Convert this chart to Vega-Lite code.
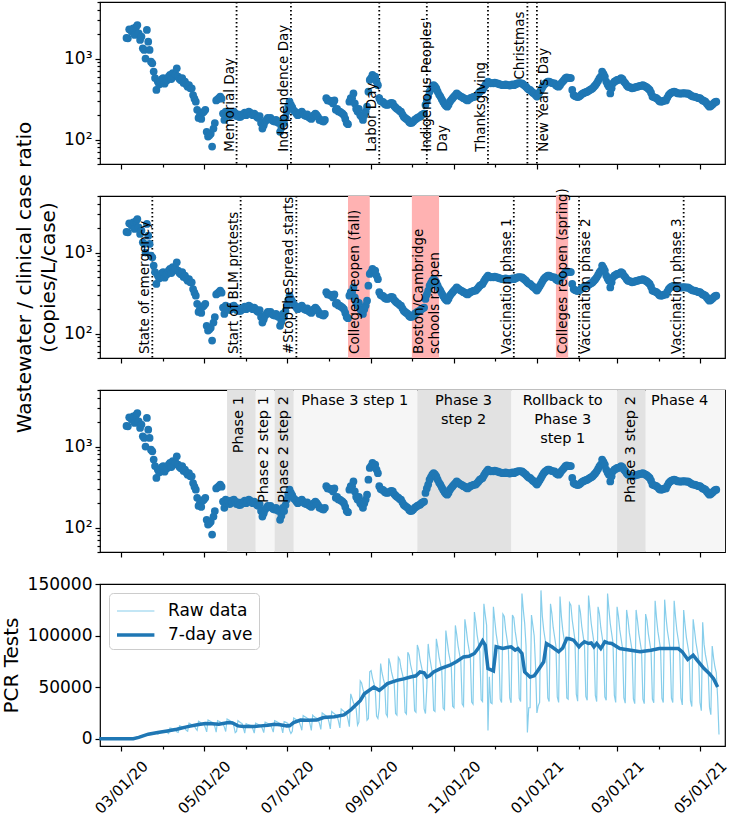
{
"$schema":"https://vega.github.io/schema/vega-lite/v6.json",
"background":"white",
"padding":{"left":0,"top":0,"right":5,"bottom":0},
"spacing":32,
"bounds":"flush",
"resolve":{"scale":{"color":"independent","strokeWidth":"independent"},"legend":{"color":"independent","strokeWidth":"independent"}},
"config":{"font":"DejaVu Sans","view":{"stroke":"black","strokeWidth":1.2},
"axis":{"grid":false,"domain":false,"tickColor":"black","tickWidth":1.2,"labelColor":"black","labelFont":"DejaVu Sans","labelFontSize":17,"titleFont":"DejaVu Sans","titleFontSize":20,"titleFontWeight":"normal","titleColor":"black","labelOverlap":false},
"text":{"font":"DejaVu Sans","color":"black"}},
"datasets":{
"hol":[{"d":"2020-05-25","label":"Memorial Day","y":71},{"d":"2020-07-04","label":"Independence Day","y":71},{"d":"2020-09-07","label":"Labor Day","y":71},{"d":"2020-10-12","label":"Indigenous Peoples'\nDay","y":71},{"d":"2020-11-26","label":"Thanksgiving","y":71},{"d":"2020-12-25","label":"Christmas","y":551},{"d":"2021-01-01","label":"New Year's Day","y":71}],
"evt":[{"d":"2020-03-24","label":"State of emergency","y":56},{"d":"2020-05-28","label":"Start of BLM protests","y":56},{"d":"2020-07-08","label":"#StopTheSpread starts","y":56},{"d":"2020-12-15","label":"Vaccination phase 1","y":56},{"d":"2021-02-01","label":"Vaccination phase 2","y":56},{"d":"2021-04-19","label":"Vaccination phase 3","y":56}],
"reopen":[{"d":"2020-08-15","d2":"2020-08-31","label":"Colleges reopen (fall)","y":56},{"d":"2020-10-01","d2":"2020-10-21","label":"Boston/Cambridge\nschools reopen","y":56},{"d":"2021-01-15","d2":"2021-01-24","label":"Colleges reopen (spring)","y":56}],
"phdark":[{"d":"2020-05-18","d2":"2020-06-08","label":"Phase 1"},{"d":"2020-06-22","d2":"2020-07-06","label":"Phase 2 step 2"},{"d":"2020-10-05","d2":"2020-12-13","label":"Phase 3 step 2"},{"d":"2021-03-01","d2":"2021-03-22","label":"Phase 3 step 2"}],
"phlight":[{"d":"2020-06-08","d2":"2020-06-22","label":"Phase 2 step 1"},{"d":"2020-07-06","d2":"2020-10-05","label":"Phase 3 step 1"},{"d":"2020-12-13","d2":"2021-03-01","label":"Rollback to Phase 3 step 1"},{"d":"2021-03-22","d2":"2021-05-20","label":"Phase 4"}],
"phv":[{"d":"2020-05-27","label":"Phase 1","y":4200},{"d":"2020-06-14","label":"Phase 2 step 1","y":4200},{"d":"2020-06-29","label":"Phase 2 step 2","y":4200},{"d":"2021-03-11","label":"Phase 3 step 2","y":4200}],
"phh":[{"d":"2020-08-20","label":"Phase 3 step 1","y":4500},{"d":"2020-11-08","label":"Phase 3\nstep 2","y":4500},{"d":"2021-01-20","label":"Rollback to\nPhase 3\nstep 1","y":4500},{"d":"2021-04-16","label":"Phase 4","y":4500}],
"ww":[{"d":"2020-03-05","r":1800},{"d":"2020-03-06","r":1780},{"d":"2020-03-07","r":2300},{"d":"2020-03-08","r":2260},{"d":"2020-03-09","r":2150},{"d":"2020-03-10","r":2370},{"d":"2020-03-11","r":1960},{"d":"2020-03-12","r":2450},{"d":"2020-03-13","r":2600},{"d":"2020-03-14","r":2050},{"d":"2020-03-15","r":1700},{"d":"2020-03-16","r":1870},{"d":"2020-03-17","r":1340},{"d":"2020-03-18","r":1280},{"d":"2020-03-19","r":1000},{"d":"2020-03-20","r":2260},{"d":"2020-03-21","r":1620},{"d":"2020-03-22","r":1280},{"d":"2020-03-23","r":918},{"d":"2020-03-24","r":875},{"d":"2020-03-25","r":691},{"d":"2020-03-26","r":575},{"d":"2020-03-27","r":410},{"d":"2020-03-28","r":520},{"d":"2020-03-29","r":480},{"d":"2020-03-30","r":520},{"d":"2020-03-31","r":560},{"d":"2020-04-01","r":575},{"d":"2020-04-02","r":490},{"d":"2020-04-03","r":530},{"d":"2020-04-04","r":545},{"d":"2020-04-05","r":600},{"d":"2020-04-06","r":630},{"d":"2020-04-07","r":560},{"d":"2020-04-08","r":660},{"d":"2020-04-09","r":600},{"d":"2020-04-10","r":640},{"d":"2020-04-11","r":760},{"d":"2020-04-12","r":600},{"d":"2020-04-13","r":560},{"d":"2020-04-14","r":540},{"d":"2020-04-15","r":575},{"d":"2020-04-16","r":500},{"d":"2020-04-17","r":520},{"d":"2020-04-18","r":480},{"d":"2020-04-19","r":450},{"d":"2020-04-20","r":470},{"d":"2020-04-21","r":430},{"d":"2020-04-22","r":430},{"d":"2020-04-23","r":355},{"d":"2020-04-24","r":320},{"d":"2020-04-25","r":294},{"d":"2020-04-26","r":233},{"d":"2020-04-27","r":185},{"d":"2020-04-28","r":200},{"d":"2020-04-29","r":180},{"d":"2020-04-30","r":215},{"d":"2020-05-01","r":222},{"d":"2020-05-02","r":233},{"d":"2020-05-03","r":125},{"d":"2020-05-04","r":109},{"d":"2020-05-05","r":113},{"d":"2020-05-06","r":118},{"d":"2020-05-07","r":82},{"d":"2020-05-08","r":137},{"d":"2020-05-09","r":160},{"d":"2020-05-10","r":305},{"d":"2020-05-11","r":315},{"d":"2020-05-12","r":325},{"d":"2020-05-13","r":340},{"d":"2020-05-14","r":320},{"d":"2020-05-15","r":210},{"d":"2020-05-16","r":175},{"d":"2020-05-17","r":221},{"d":"2020-05-18","r":200},{"d":"2020-05-19","r":210},{"d":"2020-05-20","r":195},{"d":"2020-05-21","r":215},{"d":"2020-05-22","r":205},{"d":"2020-05-23","r":222},{"d":"2020-05-24","r":210},{"d":"2020-05-25","r":195},{"d":"2020-05-26","r":205},{"d":"2020-05-27","r":190},{"d":"2020-05-28","r":192},{"d":"2020-05-29","r":205},{"d":"2020-05-30","r":200},{"d":"2020-05-31","r":215},{"d":"2020-06-01","r":200},{"d":"2020-06-02","r":210},{"d":"2020-06-03","r":222},{"d":"2020-06-04","r":215},{"d":"2020-06-05","r":205},{"d":"2020-06-06","r":200},{"d":"2020-06-07","r":210},{"d":"2020-06-08","r":200},{"d":"2020-06-09","r":190},{"d":"2020-06-10","r":185},{"d":"2020-06-11","r":195},{"d":"2020-06-12","r":160},{"d":"2020-06-13","r":137},{"d":"2020-06-14","r":150},{"d":"2020-06-15","r":167},{"d":"2020-06-16","r":175},{"d":"2020-06-17","r":185},{"d":"2020-06-18","r":180},{"d":"2020-06-19","r":185},{"d":"2020-06-20","r":175},{"d":"2020-06-21","r":170},{"d":"2020-06-22","r":167},{"d":"2020-06-23","r":175},{"d":"2020-06-24","r":165},{"d":"2020-06-25","r":160},{"d":"2020-06-26","r":125},{"d":"2020-06-27","r":140},{"d":"2020-06-28","r":175},{"d":"2020-06-29","r":160},{"d":"2020-06-30","r":190},{"d":"2020-07-01","r":222},{"d":"2020-07-02","r":260},{"d":"2020-07-03","r":294},{"d":"2020-07-04","r":268},{"d":"2020-07-05","r":250},{"d":"2020-07-06","r":230},{"d":"2020-07-07","r":222},{"d":"2020-07-08","r":210},{"d":"2020-07-09","r":200},{"d":"2020-07-10","r":205},{"d":"2020-07-11","r":215},{"d":"2020-07-12","r":222},{"d":"2020-07-13","r":210},{"d":"2020-07-14","r":200},{"d":"2020-07-15","r":195},{"d":"2020-07-16","r":205},{"d":"2020-07-17","r":190},{"d":"2020-07-18","r":185},{"d":"2020-07-19","r":180},{"d":"2020-07-20","r":195},{"d":"2020-07-21","r":200},{"d":"2020-07-22","r":210},{"d":"2020-07-23","r":200},{"d":"2020-07-24","r":190},{"d":"2020-07-25","r":175},{"d":"2020-07-26","r":175},{"d":"2020-07-27","r":170},{"d":"2020-07-28","r":167},{"d":"2020-07-29","r":175},{"d":"2020-07-30","r":325},{"d":"2020-07-31","r":305},{"d":"2020-08-01","r":305},{"d":"2020-08-02","r":300},{"d":"2020-08-03","r":294},{"d":"2020-08-04","r":280},{"d":"2020-08-05","r":305},{"d":"2020-08-06","r":233},{"d":"2020-08-07","r":240},{"d":"2020-08-08","r":222},{"d":"2020-08-09","r":222},{"d":"2020-08-10","r":215},{"d":"2020-08-11","r":210},{"d":"2020-08-12","r":200},{"d":"2020-08-13","r":180},{"d":"2020-08-14","r":160},{"d":"2020-08-15","r":155},{"d":"2020-08-16","r":294},{"d":"2020-08-17","r":325},{"d":"2020-08-18","r":325},{"d":"2020-08-19","r":372},{"d":"2020-08-20","r":280},{"d":"2020-08-21","r":240},{"d":"2020-08-22","r":222},{"d":"2020-08-23","r":240},{"d":"2020-08-24","r":200},{"d":"2020-08-25","r":192},{"d":"2020-08-26","r":175},{"d":"2020-08-27","r":200},{"d":"2020-08-28","r":222},{"d":"2020-08-29","r":255},{"d":"2020-08-30","r":390},{"d":"2020-08-31","r":545},{"d":"2020-09-01","r":575},{"d":"2020-09-02","r":630},{"d":"2020-09-03","r":600},{"d":"2020-09-04","r":600},{"d":"2020-09-05","r":520},{"d":"2020-09-06","r":470},{"d":"2020-09-07","r":325},{"d":"2020-09-08","r":300},{"d":"2020-09-09","r":294},{"d":"2020-09-10","r":290},{"d":"2020-09-11","r":275},{"d":"2020-09-12","r":270},{"d":"2020-09-13","r":268},{"d":"2020-09-14","r":275},{"d":"2020-09-15","r":280},{"d":"2020-09-16","r":285},{"d":"2020-09-17","r":280},{"d":"2020-09-18","r":260},{"d":"2020-09-19","r":250},{"d":"2020-09-20","r":240},{"d":"2020-09-21","r":235},{"d":"2020-09-22","r":225},{"d":"2020-09-23","r":222},{"d":"2020-09-24","r":205},{"d":"2020-09-25","r":192},{"d":"2020-09-26","r":185},{"d":"2020-09-27","r":180},{"d":"2020-09-28","r":175},{"d":"2020-09-29","r":165},{"d":"2020-09-30","r":160},{"d":"2020-10-01","r":162},{"d":"2020-10-02","r":167},{"d":"2020-10-03","r":175},{"d":"2020-10-04","r":180},{"d":"2020-10-05","r":185},{"d":"2020-10-06","r":190},{"d":"2020-10-07","r":192},{"d":"2020-10-08","r":200},{"d":"2020-10-09","r":205},{"d":"2020-10-10","r":210},{"d":"2020-10-11","r":268},{"d":"2020-10-12","r":305},{"d":"2020-10-13","r":340},{"d":"2020-10-14","r":391},{"d":"2020-10-15","r":420},{"d":"2020-10-16","r":450},{"d":"2020-10-17","r":470},{"d":"2020-10-18","r":455},{"d":"2020-10-19","r":430},{"d":"2020-10-20","r":390},{"d":"2020-10-21","r":360},{"d":"2020-10-22","r":340},{"d":"2020-10-23","r":315},{"d":"2020-10-24","r":294},{"d":"2020-10-25","r":275},{"d":"2020-10-26","r":262},{"d":"2020-10-27","r":255},{"d":"2020-10-28","r":270},{"d":"2020-10-29","r":294},{"d":"2020-10-30","r":310},{"d":"2020-10-31","r":325},{"d":"2020-11-01","r":340},{"d":"2020-11-02","r":355},{"d":"2020-11-03","r":372},{"d":"2020-11-04","r":360},{"d":"2020-11-05","r":350},{"d":"2020-11-06","r":340},{"d":"2020-11-07","r":335},{"d":"2020-11-08","r":325},{"d":"2020-11-09","r":320},{"d":"2020-11-10","r":310},{"d":"2020-11-11","r":305},{"d":"2020-11-12","r":315},{"d":"2020-11-13","r":325},{"d":"2020-11-14","r":330},{"d":"2020-11-15","r":335},{"d":"2020-11-16","r":340},{"d":"2020-11-17","r":340},{"d":"2020-11-18","r":355},{"d":"2020-11-19","r":372},{"d":"2020-11-20","r":390},{"d":"2020-11-21","r":400},{"d":"2020-11-22","r":410},{"d":"2020-11-23","r":440},{"d":"2020-11-24","r":470},{"d":"2020-11-25","r":495},{"d":"2020-11-26","r":520},{"d":"2020-11-27","r":505},{"d":"2020-11-28","r":495},{"d":"2020-11-29","r":500},{"d":"2020-11-30","r":495},{"d":"2020-12-01","r":505},{"d":"2020-12-02","r":495},{"d":"2020-12-03","r":495},{"d":"2020-12-04","r":485},{"d":"2020-12-05","r":480},{"d":"2020-12-06","r":475},{"d":"2020-12-07","r":470},{"d":"2020-12-08","r":470},{"d":"2020-12-09","r":480},{"d":"2020-12-10","r":470},{"d":"2020-12-11","r":470},{"d":"2020-12-12","r":465},{"d":"2020-12-13","r":470},{"d":"2020-12-14","r":480},{"d":"2020-12-15","r":470},{"d":"2020-12-16","r":480},{"d":"2020-12-17","r":490},{"d":"2020-12-18","r":495},{"d":"2020-12-19","r":500},{"d":"2020-12-20","r":495},{"d":"2020-12-21","r":495},{"d":"2020-12-22","r":480},{"d":"2020-12-23","r":465},{"d":"2020-12-24","r":450},{"d":"2020-12-25","r":430},{"d":"2020-12-26","r":415},{"d":"2020-12-27","r":410},{"d":"2020-12-28","r":395},{"d":"2020-12-29","r":380},{"d":"2020-12-30","r":372},{"d":"2020-12-31","r":355},{"d":"2021-01-01","r":340},{"d":"2021-01-02","r":360},{"d":"2021-01-03","r":385},{"d":"2021-01-04","r":410},{"d":"2021-01-05","r":440},{"d":"2021-01-06","r":470},{"d":"2021-01-07","r":490},{"d":"2021-01-08","r":505},{"d":"2021-01-09","r":520},{"d":"2021-01-10","r":520},{"d":"2021-01-11","r":510},{"d":"2021-01-12","r":500},{"d":"2021-01-13","r":495},{"d":"2021-01-14","r":495},{"d":"2021-01-15","r":470},{"d":"2021-01-16","r":455},{"d":"2021-01-17","r":450},{"d":"2021-01-18","r":470},{"d":"2021-01-19","r":500},{"d":"2021-01-20","r":520},{"d":"2021-01-21","r":545},{"d":"2021-01-22","r":575},{"d":"2021-01-23","r":585},{"d":"2021-01-24","r":575},{"d":"2021-01-25","r":580},{"d":"2021-01-26","r":575},{"d":"2021-01-27","r":410},{"d":"2021-01-28","r":355},{"d":"2021-01-29","r":345},{"d":"2021-01-30","r":340},{"d":"2021-01-31","r":335},{"d":"2021-02-01","r":340},{"d":"2021-02-02","r":350},{"d":"2021-02-03","r":365},{"d":"2021-02-04","r":372},{"d":"2021-02-05","r":380},{"d":"2021-02-06","r":385},{"d":"2021-02-07","r":391},{"d":"2021-02-08","r":400},{"d":"2021-02-09","r":410},{"d":"2021-02-10","r":420},{"d":"2021-02-11","r":430},{"d":"2021-02-12","r":450},{"d":"2021-02-13","r":470},{"d":"2021-02-14","r":495},{"d":"2021-02-15","r":530},{"d":"2021-02-16","r":570},{"d":"2021-02-17","r":600},{"d":"2021-02-18","r":691},{"d":"2021-02-19","r":650},{"d":"2021-02-20","r":600},{"d":"2021-02-21","r":520},{"d":"2021-02-22","r":480},{"d":"2021-02-23","r":450},{"d":"2021-02-24","r":372},{"d":"2021-02-25","r":430},{"d":"2021-02-26","r":495},{"d":"2021-02-27","r":520},{"d":"2021-02-28","r":530},{"d":"2021-03-01","r":545},{"d":"2021-03-02","r":545},{"d":"2021-03-03","r":560},{"d":"2021-03-04","r":575},{"d":"2021-03-05","r":560},{"d":"2021-03-06","r":520},{"d":"2021-03-07","r":500},{"d":"2021-03-08","r":470},{"d":"2021-03-09","r":450},{"d":"2021-03-10","r":445},{"d":"2021-03-11","r":440},{"d":"2021-03-12","r":430},{"d":"2021-03-13","r":435},{"d":"2021-03-14","r":440},{"d":"2021-03-15","r":445},{"d":"2021-03-16","r":450},{"d":"2021-03-17","r":455},{"d":"2021-03-18","r":460},{"d":"2021-03-19","r":465},{"d":"2021-03-20","r":470},{"d":"2021-03-21","r":460},{"d":"2021-03-22","r":450},{"d":"2021-03-23","r":440},{"d":"2021-03-24","r":425},{"d":"2021-03-25","r":410},{"d":"2021-03-26","r":380},{"d":"2021-03-27","r":340},{"d":"2021-03-28","r":335},{"d":"2021-03-29","r":330},{"d":"2021-03-30","r":325},{"d":"2021-03-31","r":315},{"d":"2021-04-01","r":300},{"d":"2021-04-02","r":294},{"d":"2021-04-03","r":295},{"d":"2021-04-04","r":300},{"d":"2021-04-05","r":305},{"d":"2021-04-06","r":305},{"d":"2021-04-07","r":330},{"d":"2021-04-08","r":355},{"d":"2021-04-09","r":370},{"d":"2021-04-10","r":380},{"d":"2021-04-11","r":385},{"d":"2021-04-12","r":391},{"d":"2021-04-13","r":385},{"d":"2021-04-14","r":375},{"d":"2021-04-15","r":372},{"d":"2021-04-16","r":372},{"d":"2021-04-17","r":370},{"d":"2021-04-18","r":372},{"d":"2021-04-19","r":375},{"d":"2021-04-20","r":372},{"d":"2021-04-21","r":370},{"d":"2021-04-22","r":372},{"d":"2021-04-23","r":365},{"d":"2021-04-24","r":355},{"d":"2021-04-25","r":345},{"d":"2021-04-26","r":340},{"d":"2021-04-27","r":340},{"d":"2021-04-28","r":335},{"d":"2021-04-29","r":330},{"d":"2021-04-30","r":325},{"d":"2021-05-01","r":325},{"d":"2021-05-02","r":315},{"d":"2021-05-03","r":305},{"d":"2021-05-04","r":300},{"d":"2021-05-05","r":294},{"d":"2021-05-06","r":280},{"d":"2021-05-07","r":265},{"d":"2021-05-08","r":255},{"d":"2021-05-09","r":260},{"d":"2021-05-10","r":270},{"d":"2021-05-11","r":280},{"d":"2021-05-12","r":290},{"d":"2021-05-13","r":294}],
"avg":[{"d":"2020-02-14","a":0},{"d":"2020-03-10","a":0},{"d":"2020-03-14","a":1200},{"d":"2020-03-21","a":4300},{"d":"2020-03-28","a":6000},{"d":"2020-04-04","a":7500},{"d":"2020-04-11","a":9200},{"d":"2020-04-19","a":11700},{"d":"2020-04-26","a":13500},{"d":"2020-05-02","a":14600},{"d":"2020-05-07","a":14500},{"d":"2020-05-12","a":14000},{"d":"2020-05-19","a":15600},{"d":"2020-05-22","a":15200},{"d":"2020-05-26","a":12400},{"d":"2020-05-30","a":11900},{"d":"2020-06-02","a":11700},{"d":"2020-06-07","a":11800},{"d":"2020-06-12","a":12400},{"d":"2020-06-17","a":13000},{"d":"2020-06-22","a":14000},{"d":"2020-06-26","a":13500},{"d":"2020-07-01","a":12400},{"d":"2020-07-03","a":12500},{"d":"2020-07-06","a":15600},{"d":"2020-07-11","a":18000},{"d":"2020-07-16","a":17800},{"d":"2020-07-23","a":18000},{"d":"2020-07-28","a":20500},{"d":"2020-08-05","a":21200},{"d":"2020-08-12","a":23100},{"d":"2020-08-17","a":28000},{"d":"2020-08-24","a":36800},{"d":"2020-08-27","a":43600},{"d":"2020-09-03","a":50100},{"d":"2020-09-07","a":46900},{"d":"2020-09-10","a":50000},{"d":"2020-09-13","a":53400},{"d":"2020-09-20","a":56600},{"d":"2020-09-25","a":58000},{"d":"2020-09-30","a":59900},{"d":"2020-10-04","a":61000},{"d":"2020-10-07","a":64800},{"d":"2020-10-10","a":64000},{"d":"2020-10-12","a":59900},{"d":"2020-10-14","a":61000},{"d":"2020-10-17","a":64800},{"d":"2020-10-22","a":68000},{"d":"2020-10-29","a":71300},{"d":"2020-11-03","a":75000},{"d":"2020-11-08","a":79400},{"d":"2020-11-12","a":80000},{"d":"2020-11-16","a":82700},{"d":"2020-11-19","a":88000},{"d":"2020-11-22","a":95000},{"d":"2020-11-24","a":90800},{"d":"2020-11-26","a":68000},{"d":"2020-11-30","a":65800},{"d":"2020-12-02","a":89200},{"d":"2020-12-07","a":87500},{"d":"2020-12-10","a":88500},{"d":"2020-12-13","a":89200},{"d":"2020-12-16","a":85900},{"d":"2020-12-18","a":87500},{"d":"2020-12-21","a":82700},{"d":"2020-12-23","a":64800},{"d":"2020-12-27","a":59900},{"d":"2020-12-30","a":61000},{"d":"2021-01-01","a":64800},{"d":"2021-01-06","a":74600},{"d":"2021-01-08","a":92400},{"d":"2021-01-12","a":89200},{"d":"2021-01-17","a":84300},{"d":"2021-01-20","a":88000},{"d":"2021-01-23","a":97300},{"d":"2021-01-25","a":97000},{"d":"2021-01-28","a":95600},{"d":"2021-02-01","a":89200},{"d":"2021-02-03","a":92000},{"d":"2021-02-05","a":94100},{"d":"2021-02-08","a":92400},{"d":"2021-02-10","a":93000},{"d":"2021-02-12","a":89200},{"d":"2021-02-14","a":92400},{"d":"2021-02-17","a":87500},{"d":"2021-02-20","a":94100},{"d":"2021-02-22","a":93000},{"d":"2021-02-25","a":92400},{"d":"2021-03-03","a":87500},{"d":"2021-03-11","a":85900},{"d":"2021-03-18","a":84300},{"d":"2021-03-26","a":85900},{"d":"2021-04-01","a":87500},{"d":"2021-04-07","a":87500},{"d":"2021-04-15","a":87500},{"d":"2021-04-18","a":84300},{"d":"2021-04-22","a":76800},{"d":"2021-04-26","a":81000},{"d":"2021-04-29","a":76100},{"d":"2021-05-04","a":68000},{"d":"2021-05-08","a":63000},{"d":"2021-05-11","a":58300},{"d":"2021-05-14","a":50100}],
"pcr":[{"d":"2020-02-14","t":0},{"d":"2020-02-21","t":0},{"d":"2020-02-28","t":0},{"d":"2020-03-01","t":0},{"d":"2020-03-07","t":0},{"d":"2020-03-08","t":0},{"d":"2020-03-09","t":0},{"d":"2020-03-10","t":200},{"d":"2020-03-11","t":600},{"d":"2020-03-12","t":1200},{"d":"2020-03-13","t":1800},{"d":"2020-03-14","t":1800},{"d":"2020-03-15","t":2200},{"d":"2020-03-16","t":2800},{"d":"2020-03-17","t":3200},{"d":"2020-03-18","t":3500},{"d":"2020-03-19","t":3800},{"d":"2020-03-20","t":4000},{"d":"2020-03-21","t":3600},{"d":"2020-03-22","t":3800},{"d":"2020-03-23","t":4800},{"d":"2020-03-24","t":5200},{"d":"2020-03-25","t":5400},{"d":"2020-03-26","t":5500},{"d":"2020-03-27","t":5200},{"d":"2020-03-28","t":4400},{"d":"2020-03-29","t":5000},{"d":"2020-03-30","t":6800},{"d":"2020-03-31","t":7200},{"d":"2020-04-01","t":7400},{"d":"2020-04-02","t":7200},{"d":"2020-04-03","t":7000},{"d":"2020-04-04","t":6000},{"d":"2020-04-05","t":5000},{"d":"2020-04-06","t":10400},{"d":"2020-04-07","t":10000},{"d":"2020-04-08","t":9100},{"d":"2020-04-09","t":8700},{"d":"2020-04-10","t":8300},{"d":"2020-04-11","t":6600},{"d":"2020-04-12","t":6000},{"d":"2020-04-13","t":12500},{"d":"2020-04-14","t":12000},{"d":"2020-04-15","t":11000},{"d":"2020-04-16","t":10500},{"d":"2020-04-17","t":10000},{"d":"2020-04-18","t":8000},{"d":"2020-04-19","t":7200},{"d":"2020-04-20","t":15000},{"d":"2020-04-21","t":14400},{"d":"2020-04-22","t":13200},{"d":"2020-04-23","t":12600},{"d":"2020-04-24","t":12000},{"d":"2020-04-25","t":9600},{"d":"2020-04-26","t":8100},{"d":"2020-04-27","t":16900},{"d":"2020-04-28","t":16200},{"d":"2020-04-29","t":14900},{"d":"2020-04-30","t":14200},{"d":"2020-05-01","t":13500},{"d":"2020-05-02","t":10800},{"d":"2020-05-03","t":6500},{"d":"2020-05-04","t":18100},{"d":"2020-05-05","t":17400},{"d":"2020-05-06","t":16700},{"d":"2020-05-07","t":16000},{"d":"2020-05-08","t":15200},{"d":"2020-05-09","t":11600},{"d":"2020-05-10","t":6300},{"d":"2020-05-11","t":17500},{"d":"2020-05-12","t":16800},{"d":"2020-05-13","t":16100},{"d":"2020-05-14","t":15400},{"d":"2020-05-15","t":14700},{"d":"2020-05-16","t":11200},{"d":"2020-05-17","t":6900},{"d":"2020-05-18","t":19100},{"d":"2020-05-19","t":18400},{"d":"2020-05-20","t":17600},{"d":"2020-05-21","t":16800},{"d":"2020-05-22","t":16100},{"d":"2020-05-23","t":12200},{"d":"2020-05-24","t":5900},{"d":"2020-05-25","t":7000},{"d":"2020-05-26","t":17500},{"d":"2020-05-27","t":16500},{"d":"2020-05-28","t":15500},{"d":"2020-05-29","t":14700},{"d":"2020-05-30","t":10400},{"d":"2020-05-31","t":5300},{"d":"2020-06-01","t":14600},{"d":"2020-06-02","t":14000},{"d":"2020-06-03","t":13500},{"d":"2020-06-04","t":12900},{"d":"2020-06-05","t":12300},{"d":"2020-06-06","t":9400},{"d":"2020-06-07","t":5400},{"d":"2020-06-08","t":15000},{"d":"2020-06-09","t":14400},{"d":"2020-06-10","t":13800},{"d":"2020-06-11","t":13200},{"d":"2020-06-12","t":12600},{"d":"2020-06-13","t":9600},{"d":"2020-06-14","t":5800},{"d":"2020-06-15","t":16000},{"d":"2020-06-16","t":15400},{"d":"2020-06-17","t":14700},{"d":"2020-06-18","t":14100},{"d":"2020-06-19","t":13400},{"d":"2020-06-20","t":10200},{"d":"2020-06-21","t":6300},{"d":"2020-06-22","t":17500},{"d":"2020-06-23","t":16800},{"d":"2020-06-24","t":16100},{"d":"2020-06-25","t":15400},{"d":"2020-06-26","t":14700},{"d":"2020-06-27","t":11200},{"d":"2020-06-28","t":5600},{"d":"2020-06-29","t":16500},{"d":"2020-06-30","t":16000},{"d":"2020-07-01","t":15300},{"d":"2020-07-02","t":14500},{"d":"2020-07-03","t":8000},{"d":"2020-07-04","t":5000},{"d":"2020-07-05","t":7200},{"d":"2020-07-06","t":20000},{"d":"2020-07-07","t":19200},{"d":"2020-07-08","t":18400},{"d":"2020-07-09","t":17600},{"d":"2020-07-10","t":16800},{"d":"2020-07-11","t":12800},{"d":"2020-07-12","t":8100},{"d":"2020-07-13","t":22500},{"d":"2020-07-14","t":21600},{"d":"2020-07-15","t":20700},{"d":"2020-07-16","t":19800},{"d":"2020-07-17","t":18900},{"d":"2020-07-18","t":14400},{"d":"2020-07-19","t":8000},{"d":"2020-07-20","t":22800},{"d":"2020-07-21","t":21400},{"d":"2020-07-22","t":20500},{"d":"2020-07-23","t":19900},{"d":"2020-07-24","t":18700},{"d":"2020-07-25","t":14600},{"d":"2020-07-26","t":9000},{"d":"2020-07-27","t":25000},{"d":"2020-07-28","t":24000},{"d":"2020-07-29","t":23000},{"d":"2020-07-30","t":22000},{"d":"2020-07-31","t":21000},{"d":"2020-08-01","t":16000},{"d":"2020-08-02","t":9500},{"d":"2020-08-03","t":26300},{"d":"2020-08-04","t":25200},{"d":"2020-08-05","t":24200},{"d":"2020-08-06","t":23100},{"d":"2020-08-07","t":22100},{"d":"2020-08-08","t":16800},{"d":"2020-08-09","t":10400},{"d":"2020-08-10","t":28800},{"d":"2020-08-11","t":27600},{"d":"2020-08-12","t":26500},{"d":"2020-08-13","t":25300},{"d":"2020-08-14","t":24200},{"d":"2020-08-15","t":18400},{"d":"2020-08-16","t":11600},{"d":"2020-08-17","t":43500},{"d":"2020-08-18","t":39200},{"d":"2020-08-19","t":34800},{"d":"2020-08-20","t":31900},{"d":"2020-08-21","t":29000},{"d":"2020-08-22","t":13100},{"d":"2020-08-23","t":16000},{"d":"2020-08-24","t":56000},{"d":"2020-08-25","t":54000},{"d":"2020-08-26","t":48000},{"d":"2020-08-27","t":44000},{"d":"2020-08-28","t":40000},{"d":"2020-08-29","t":18000},{"d":"2020-08-30","t":19600},{"d":"2020-08-31","t":65000},{"d":"2020-09-01","t":66000},{"d":"2020-09-02","t":58800},{"d":"2020-09-03","t":53900},{"d":"2020-09-04","t":49000},{"d":"2020-09-05","t":22000},{"d":"2020-09-06","t":19600},{"d":"2020-09-07","t":30000},{"d":"2020-09-08","t":73000},{"d":"2020-09-09","t":64000},{"d":"2020-09-10","t":58000},{"d":"2020-09-11","t":53000},{"d":"2020-09-12","t":24000},{"d":"2020-09-13","t":21600},{"d":"2020-09-14","t":78000},{"d":"2020-09-15","t":72900},{"d":"2020-09-16","t":64800},{"d":"2020-09-17","t":59400},{"d":"2020-09-18","t":54000},{"d":"2020-09-19","t":24300},{"d":"2020-09-20","t":22800},{"d":"2020-09-21","t":79000},{"d":"2020-09-22","t":77000},{"d":"2020-09-23","t":68400},{"d":"2020-09-24","t":62700},{"d":"2020-09-25","t":57000},{"d":"2020-09-26","t":25700},{"d":"2020-09-27","t":24000},{"d":"2020-09-28","t":84000},{"d":"2020-09-29","t":81000},{"d":"2020-09-30","t":72000},{"d":"2020-10-01","t":66000},{"d":"2020-10-02","t":60000},{"d":"2020-10-03","t":27000},{"d":"2020-10-04","t":25600},{"d":"2020-10-05","t":91000},{"d":"2020-10-06","t":86400},{"d":"2020-10-07","t":76800},{"d":"2020-10-08","t":70400},{"d":"2020-10-09","t":64000},{"d":"2020-10-10","t":28800},{"d":"2020-10-11","t":24400},{"d":"2020-10-12","t":50000},{"d":"2020-10-13","t":92000},{"d":"2020-10-14","t":80000},{"d":"2020-10-15","t":72000},{"d":"2020-10-16","t":64000},{"d":"2020-10-17","t":27500},{"d":"2020-10-18","t":26400},{"d":"2020-10-19","t":97000},{"d":"2020-10-20","t":89100},{"d":"2020-10-21","t":79200},{"d":"2020-10-22","t":72600},{"d":"2020-10-23","t":66000},{"d":"2020-10-24","t":29700},{"d":"2020-10-25","t":28000},{"d":"2020-10-26","t":105000},{"d":"2020-10-27","t":94500},{"d":"2020-10-28","t":84000},{"d":"2020-10-29","t":77000},{"d":"2020-10-30","t":70000},{"d":"2020-10-31","t":31500},{"d":"2020-11-01","t":30000},{"d":"2020-11-02","t":110000},{"d":"2020-11-03","t":101000},{"d":"2020-11-04","t":90000},{"d":"2020-11-05","t":82500},{"d":"2020-11-06","t":75000},{"d":"2020-11-07","t":33800},{"d":"2020-11-08","t":31600},{"d":"2020-11-09","t":116000},{"d":"2020-11-10","t":106600},{"d":"2020-11-11","t":94800},{"d":"2020-11-12","t":86900},{"d":"2020-11-13","t":79000},{"d":"2020-11-14","t":35600},{"d":"2020-11-15","t":33600},{"d":"2020-11-16","t":123000},{"d":"2020-11-17","t":113400},{"d":"2020-11-18","t":100800},{"d":"2020-11-19","t":92400},{"d":"2020-11-20","t":84000},{"d":"2020-11-21","t":37800},{"d":"2020-11-22","t":36000},{"d":"2020-11-23","t":131000},{"d":"2020-11-24","t":120000},{"d":"2020-11-25","t":110000},{"d":"2020-11-26","t":8000},{"d":"2020-11-27","t":60000},{"d":"2020-11-28","t":35000},{"d":"2020-11-29","t":34000},{"d":"2020-11-30","t":128000},{"d":"2020-12-01","t":114700},{"d":"2020-12-02","t":102000},{"d":"2020-12-03","t":93500},{"d":"2020-12-04","t":85000},{"d":"2020-12-05","t":38300},{"d":"2020-12-06","t":35200},{"d":"2020-12-07","t":121000},{"d":"2020-12-08","t":118800},{"d":"2020-12-09","t":105600},{"d":"2020-12-10","t":96800},{"d":"2020-12-11","t":88000},{"d":"2020-12-12","t":39600},{"d":"2020-12-13","t":34800},{"d":"2020-12-14","t":120000},{"d":"2020-12-15","t":117400},{"d":"2020-12-16","t":104400},{"d":"2020-12-17","t":95700},{"d":"2020-12-18","t":87000},{"d":"2020-12-19","t":39200},{"d":"2020-12-20","t":36000},{"d":"2020-12-21","t":141000},{"d":"2020-12-22","t":125000},{"d":"2020-12-23","t":112000},{"d":"2020-12-24","t":90000},{"d":"2020-12-25","t":6000},{"d":"2020-12-26","t":30000},{"d":"2020-12-27","t":30000},{"d":"2020-12-28","t":120000},{"d":"2020-12-29","t":110000},{"d":"2020-12-30","t":100000},{"d":"2020-12-31","t":70000},{"d":"2021-01-01","t":25000},{"d":"2021-01-02","t":32000},{"d":"2021-01-03","t":35200},{"d":"2021-01-04","t":144000},{"d":"2021-01-05","t":118800},{"d":"2021-01-06","t":105600},{"d":"2021-01-07","t":96800},{"d":"2021-01-08","t":88000},{"d":"2021-01-09","t":39600},{"d":"2021-01-10","t":36000},{"d":"2021-01-11","t":131000},{"d":"2021-01-12","t":121500},{"d":"2021-01-13","t":108000},{"d":"2021-01-14","t":99000},{"d":"2021-01-15","t":90000},{"d":"2021-01-16","t":40500},{"d":"2021-01-17","t":35200},{"d":"2021-01-18","t":138000},{"d":"2021-01-19","t":118800},{"d":"2021-01-20","t":105600},{"d":"2021-01-21","t":96800},{"d":"2021-01-22","t":88000},{"d":"2021-01-23","t":39600},{"d":"2021-01-24","t":38400},{"d":"2021-01-25","t":132000},{"d":"2021-01-26","t":129600},{"d":"2021-01-27","t":115200},{"d":"2021-01-28","t":105600},{"d":"2021-01-29","t":96000},{"d":"2021-01-30","t":43200},{"d":"2021-01-31","t":36400},{"d":"2021-02-01","t":130000},{"d":"2021-02-02","t":122900},{"d":"2021-02-03","t":109200},{"d":"2021-02-04","t":100100},{"d":"2021-02-05","t":91000},{"d":"2021-02-06","t":41000},{"d":"2021-02-07","t":37200},{"d":"2021-02-08","t":139000},{"d":"2021-02-09","t":125600},{"d":"2021-02-10","t":111600},{"d":"2021-02-11","t":102300},{"d":"2021-02-12","t":93000},{"d":"2021-02-13","t":41900},{"d":"2021-02-14","t":36000},{"d":"2021-02-15","t":128000},{"d":"2021-02-16","t":121500},{"d":"2021-02-17","t":108000},{"d":"2021-02-18","t":99000},{"d":"2021-02-19","t":90000},{"d":"2021-02-20","t":40500},{"d":"2021-02-21","t":37200},{"d":"2021-02-22","t":141000},{"d":"2021-02-23","t":125600},{"d":"2021-02-24","t":111600},{"d":"2021-02-25","t":102300},{"d":"2021-02-26","t":93000},{"d":"2021-02-27","t":41900},{"d":"2021-02-28","t":35200},{"d":"2021-03-01","t":128000},{"d":"2021-03-02","t":118800},{"d":"2021-03-03","t":105600},{"d":"2021-03-04","t":96800},{"d":"2021-03-05","t":88000},{"d":"2021-03-06","t":39600},{"d":"2021-03-07","t":34400},{"d":"2021-03-08","t":125000},{"d":"2021-03-09","t":116100},{"d":"2021-03-10","t":103200},{"d":"2021-03-11","t":94600},{"d":"2021-03-12","t":86000},{"d":"2021-03-13","t":38700},{"d":"2021-03-14","t":34000},{"d":"2021-03-15","t":125000},{"d":"2021-03-16","t":114800},{"d":"2021-03-17","t":102000},{"d":"2021-03-18","t":93500},{"d":"2021-03-19","t":85000},{"d":"2021-03-20","t":38300},{"d":"2021-03-21","t":34000},{"d":"2021-03-22","t":121000},{"d":"2021-03-23","t":114800},{"d":"2021-03-24","t":102000},{"d":"2021-03-25","t":93500},{"d":"2021-03-26","t":85000},{"d":"2021-03-27","t":38300},{"d":"2021-03-28","t":34800},{"d":"2021-03-29","t":134000},{"d":"2021-03-30","t":117500},{"d":"2021-03-31","t":104400},{"d":"2021-04-01","t":95700},{"d":"2021-04-02","t":87000},{"d":"2021-04-03","t":39200},{"d":"2021-04-04","t":35000},{"d":"2021-04-05","t":135000},{"d":"2021-04-06","t":118100},{"d":"2021-04-07","t":105000},{"d":"2021-04-08","t":96300},{"d":"2021-04-09","t":87500},{"d":"2021-04-10","t":39400},{"d":"2021-04-11","t":35000},{"d":"2021-04-12","t":134000},{"d":"2021-04-13","t":118100},{"d":"2021-04-14","t":105000},{"d":"2021-04-15","t":96300},{"d":"2021-04-16","t":87500},{"d":"2021-04-17","t":39400},{"d":"2021-04-18","t":32800},{"d":"2021-04-19","t":125000},{"d":"2021-04-20","t":110700},{"d":"2021-04-21","t":98400},{"d":"2021-04-22","t":90200},{"d":"2021-04-23","t":82000},{"d":"2021-04-24","t":36900},{"d":"2021-04-25","t":31200},{"d":"2021-04-26","t":116000},{"d":"2021-04-27","t":105300},{"d":"2021-04-28","t":93600},{"d":"2021-04-29","t":85800},{"d":"2021-04-30","t":78000},{"d":"2021-05-01","t":35100},{"d":"2021-05-02","t":27200},{"d":"2021-05-03","t":113000},{"d":"2021-05-04","t":91800},{"d":"2021-05-05","t":81600},{"d":"2021-05-06","t":74800},{"d":"2021-05-07","t":68000},{"d":"2021-05-08","t":30600},{"d":"2021-05-09","t":23200},{"d":"2021-05-10","t":90000},{"d":"2021-05-11","t":78300},{"d":"2021-05-12","t":69600},{"d":"2021-05-13","t":63800},{"d":"2021-05-14","t":40000},{"d":"2021-05-15","t":4000}]
},
"vconcat":[
{"width":625,"height":162,
"encoding":{"x":{"field":"d","type":"temporal","scale":{"type":"utc","domain":[{"year":2020,"month":2,"date":14,"hours":12,"utc":true},{"year":2021,"month":5,"date":19,"hours":10,"utc":true}]},"axis":{"title":null,"labels":false,"values":[{"year":2020,"month":3,"date":1,"utc":true},{"year":2020,"month":4,"date":1,"utc":true},{"year":2020,"month":5,"date":1,"utc":true},{"year":2020,"month":6,"date":1,"utc":true},{"year":2020,"month":7,"date":1,"utc":true},{"year":2020,"month":8,"date":1,"utc":true},{"year":2020,"month":9,"date":1,"utc":true},{"year":2020,"month":10,"date":1,"utc":true},{"year":2020,"month":11,"date":1,"utc":true},{"year":2020,"month":12,"date":1,"utc":true},{"year":2021,"month":1,"date":1,"utc":true},{"year":2021,"month":2,"date":1,"utc":true},{"year":2021,"month":3,"date":1,"utc":true},{"year":2021,"month":4,"date":1,"utc":true},{"year":2021,"month":5,"date":1,"utc":true}],"tickSize":{"condition":{"test":"utcmonth(datum.value) % 2 == 0","value":5},"value":3}}}},
"layer":[
{"data":{"name":"hol"},"mark":{"type":"rule","color":"black","strokeWidth":1.8,"strokeDash":[1.5,2.5]},"encoding":{}},
{"data":{"name":"ww"},"mark":{"type":"circle","size":60,"color":"#1f77b4","opacity":1},"encoding":{"y":{"field":"r","type":"quantitative","scale":{"type":"log","domain":[50,5000],"nice":false},"axis":{"title":null,"values":[50,60,70,80,90,100,200,300,400,500,600,700,800,900,1000,2000,3000,4000,5000],"labelExpr":"datum.value == 100 ? '10²' : datum.value == 1000 ? '10³' : ''","labelFontSize":{"condition":{"test":"datum.value == 100 || datum.value == 1000","value":17},"value":0},"labelPadding":3,"tickSize":{"condition":{"test":"datum.value == 100 || datum.value == 1000","value":5},"value":3}}}}},
{"data":{"name":"hol"},"transform":[{"filter":{"not":{"field":"label","oneOf":["New Year's Day","Indigenous Peoples'\nDay"]}}}],"mark":{"type":"text","angle":270,"align":"left","baseline":"bottom","fontSize":13.5},"encoding":{"y":{"field":"y","type":"quantitative","scale":{"type":"log","domain":[50,5000],"nice":false},"axis":{"title":null,"values":[50,60,70,80,90,100,200,300,400,500,600,700,800,900,1000,2000,3000,4000,5000],"labelExpr":"datum.value == 100 ? '10²' : datum.value == 1000 ? '10³' : ''","labelFontSize":{"condition":{"test":"datum.value == 100 || datum.value == 1000","value":17},"value":0},"labelPadding":3,"tickSize":{"condition":{"test":"datum.value == 100 || datum.value == 1000","value":5},"value":3}}},"text":{"field":"label"}}},
{"data":{"name":"hol"},"transform":[{"filter":{"field":"label","equal":"New Year's Day"}}],"mark":{"type":"text","angle":270,"align":"left","baseline":"top","fontSize":13.5},"encoding":{"y":{"field":"y","type":"quantitative","scale":{"type":"log","domain":[50,5000],"nice":false},"axis":{"title":null,"values":[50,60,70,80,90,100,200,300,400,500,600,700,800,900,1000,2000,3000,4000,5000],"labelExpr":"datum.value == 100 ? '10²' : datum.value == 1000 ? '10³' : ''","labelFontSize":{"condition":{"test":"datum.value == 100 || datum.value == 1000","value":17},"value":0},"labelPadding":3,"tickSize":{"condition":{"test":"datum.value == 100 || datum.value == 1000","value":5},"value":3}}},"text":{"field":"label"}}},
{"data":{"name":"hol"},"transform":[{"filter":{"field":"label","equal":"Indigenous Peoples'\nDay"}}],"mark":{"type":"text","angle":270,"align":"left","baseline":"middle","lineBreak":"\n","lineHeight":16,"fontSize":13.5},"encoding":{"y":{"field":"y","type":"quantitative","scale":{"type":"log","domain":[50,5000],"nice":false},"axis":{"title":null,"values":[50,60,70,80,90,100,200,300,400,500,600,700,800,900,1000,2000,3000,4000,5000],"labelExpr":"datum.value == 100 ? '10²' : datum.value == 1000 ? '10³' : ''","labelFontSize":{"condition":{"test":"datum.value == 100 || datum.value == 1000","value":17},"value":0},"labelPadding":3,"tickSize":{"condition":{"test":"datum.value == 100 || datum.value == 1000","value":5},"value":3}}},"text":{"field":"label"}}}
]},
{"width":625,"height":162,
"encoding":{"x":{"field":"d","type":"temporal","scale":{"type":"utc","domain":[{"year":2020,"month":2,"date":14,"hours":12,"utc":true},{"year":2021,"month":5,"date":19,"hours":10,"utc":true}]},"axis":{"title":null,"labels":false,"values":[{"year":2020,"month":3,"date":1,"utc":true},{"year":2020,"month":4,"date":1,"utc":true},{"year":2020,"month":5,"date":1,"utc":true},{"year":2020,"month":6,"date":1,"utc":true},{"year":2020,"month":7,"date":1,"utc":true},{"year":2020,"month":8,"date":1,"utc":true},{"year":2020,"month":9,"date":1,"utc":true},{"year":2020,"month":10,"date":1,"utc":true},{"year":2020,"month":11,"date":1,"utc":true},{"year":2020,"month":12,"date":1,"utc":true},{"year":2021,"month":1,"date":1,"utc":true},{"year":2021,"month":2,"date":1,"utc":true},{"year":2021,"month":3,"date":1,"utc":true},{"year":2021,"month":4,"date":1,"utc":true},{"year":2021,"month":5,"date":1,"utc":true}],"tickSize":{"condition":{"test":"utcmonth(datum.value) % 2 == 0","value":5},"value":3}}}},
"layer":[
{"data":{"name":"reopen"},"mark":{"type":"rect","color":"#ffb2b2"},"encoding":{"x2":{"field":"d2"}}},
{"data":{"name":"evt"},"mark":{"type":"rule","color":"black","strokeWidth":1.8,"strokeDash":[1.5,2.5]},"encoding":{}},
{"data":{"name":"ww"},"mark":{"type":"circle","size":60,"color":"#1f77b4","opacity":1},"encoding":{"y":{"field":"r","type":"quantitative","scale":{"type":"log","domain":[50,5000],"nice":false},"axis":{"title":["Wastewater / clinical case ratio","(copies/L/case)"],"titleX":-66,"titleLineHeight":24,"values":[50,60,70,80,90,100,200,300,400,500,600,700,800,900,1000,2000,3000,4000,5000],"labelExpr":"datum.value == 100 ? '10²' : datum.value == 1000 ? '10³' : ''","labelFontSize":{"condition":{"test":"datum.value == 100 || datum.value == 1000","value":17},"value":0},"labelPadding":3,"tickSize":{"condition":{"test":"datum.value == 100 || datum.value == 1000","value":5},"value":3}}}}},
{"data":{"name":"evt"},"transform":[{"filter":{"not":{"field":"label","equal":"Vaccination phase 2"}}}],"mark":{"type":"text","angle":270,"align":"left","baseline":"bottom","fontSize":13.5},"encoding":{"y":{"field":"y","type":"quantitative","scale":{"type":"log","domain":[50,5000],"nice":false},"axis":{"title":["Wastewater / clinical case ratio","(copies/L/case)"],"titleX":-66,"titleLineHeight":24,"values":[50,60,70,80,90,100,200,300,400,500,600,700,800,900,1000,2000,3000,4000,5000],"labelExpr":"datum.value == 100 ? '10²' : datum.value == 1000 ? '10³' : ''","labelFontSize":{"condition":{"test":"datum.value == 100 || datum.value == 1000","value":17},"value":0},"labelPadding":3,"tickSize":{"condition":{"test":"datum.value == 100 || datum.value == 1000","value":5},"value":3}}},"text":{"field":"label"}}},
{"data":{"name":"evt"},"transform":[{"filter":{"field":"label","equal":"Vaccination phase 2"}}],"mark":{"type":"text","angle":270,"align":"left","baseline":"top","fontSize":13.5},"encoding":{"y":{"field":"y","type":"quantitative","scale":{"type":"log","domain":[50,5000],"nice":false},"axis":{"title":["Wastewater / clinical case ratio","(copies/L/case)"],"titleX":-66,"titleLineHeight":24,"values":[50,60,70,80,90,100,200,300,400,500,600,700,800,900,1000,2000,3000,4000,5000],"labelExpr":"datum.value == 100 ? '10²' : datum.value == 1000 ? '10³' : ''","labelFontSize":{"condition":{"test":"datum.value == 100 || datum.value == 1000","value":17},"value":0},"labelPadding":3,"tickSize":{"condition":{"test":"datum.value == 100 || datum.value == 1000","value":5},"value":3}}},"text":{"field":"label"}}},
{"data":{"name":"reopen"},"mark":{"type":"text","angle":270,"align":"left","baseline":"top","lineBreak":"\n","lineHeight":16,"fontSize":13.5},"encoding":{"y":{"field":"y","type":"quantitative","scale":{"type":"log","domain":[50,5000],"nice":false},"axis":{"title":["Wastewater / clinical case ratio","(copies/L/case)"],"titleX":-66,"titleLineHeight":24,"values":[50,60,70,80,90,100,200,300,400,500,600,700,800,900,1000,2000,3000,4000,5000],"labelExpr":"datum.value == 100 ? '10²' : datum.value == 1000 ? '10³' : ''","labelFontSize":{"condition":{"test":"datum.value == 100 || datum.value == 1000","value":17},"value":0},"labelPadding":3,"tickSize":{"condition":{"test":"datum.value == 100 || datum.value == 1000","value":5},"value":3}}},"text":{"field":"label"}}}
]},
{"width":625,"height":162,
"encoding":{"x":{"field":"d","type":"temporal","scale":{"type":"utc","domain":[{"year":2020,"month":2,"date":14,"hours":12,"utc":true},{"year":2021,"month":5,"date":19,"hours":10,"utc":true}]},"axis":{"title":null,"labels":false,"values":[{"year":2020,"month":3,"date":1,"utc":true},{"year":2020,"month":4,"date":1,"utc":true},{"year":2020,"month":5,"date":1,"utc":true},{"year":2020,"month":6,"date":1,"utc":true},{"year":2020,"month":7,"date":1,"utc":true},{"year":2020,"month":8,"date":1,"utc":true},{"year":2020,"month":9,"date":1,"utc":true},{"year":2020,"month":10,"date":1,"utc":true},{"year":2020,"month":11,"date":1,"utc":true},{"year":2020,"month":12,"date":1,"utc":true},{"year":2021,"month":1,"date":1,"utc":true},{"year":2021,"month":2,"date":1,"utc":true},{"year":2021,"month":3,"date":1,"utc":true},{"year":2021,"month":4,"date":1,"utc":true},{"year":2021,"month":5,"date":1,"utc":true}],"tickSize":{"condition":{"test":"utcmonth(datum.value) % 2 == 0","value":5},"value":3}}}},
"layer":[
{"data":{"name":"phlight"},"mark":{"type":"rect","color":"#f6f6f6","clip":true},"encoding":{"x2":{"field":"d2"}}},
{"data":{"name":"phdark"},"mark":{"type":"rect","color":"#e2e2e2"},"encoding":{"x2":{"field":"d2"}}},
{"data":{"name":"ww"},"mark":{"type":"circle","size":60,"color":"#1f77b4","opacity":1},"encoding":{"y":{"field":"r","type":"quantitative","scale":{"type":"log","domain":[50,5000],"nice":false},"axis":{"title":null,"values":[50,60,70,80,90,100,200,300,400,500,600,700,800,900,1000,2000,3000,4000,5000],"labelExpr":"datum.value == 100 ? '10²' : datum.value == 1000 ? '10³' : ''","labelFontSize":{"condition":{"test":"datum.value == 100 || datum.value == 1000","value":17},"value":0},"labelPadding":3,"tickSize":{"condition":{"test":"datum.value == 100 || datum.value == 1000","value":5},"value":3}}}}},
{"data":{"name":"phv"},"mark":{"type":"text","angle":270,"align":"right","baseline":"middle","fontSize":14.5},"encoding":{"y":{"field":"y","type":"quantitative","scale":{"type":"log","domain":[50,5000],"nice":false},"axis":{"title":null,"values":[50,60,70,80,90,100,200,300,400,500,600,700,800,900,1000,2000,3000,4000,5000],"labelExpr":"datum.value == 100 ? '10²' : datum.value == 1000 ? '10³' : ''","labelFontSize":{"condition":{"test":"datum.value == 100 || datum.value == 1000","value":17},"value":0},"labelPadding":3,"tickSize":{"condition":{"test":"datum.value == 100 || datum.value == 1000","value":5},"value":3}}},"text":{"field":"label"}}},
{"data":{"name":"phh"},"mark":{"type":"text","align":"center","baseline":"top","lineBreak":"\n","lineHeight":19,"fontSize":14.5},"encoding":{"y":{"field":"y","type":"quantitative","scale":{"type":"log","domain":[50,5000],"nice":false},"axis":{"title":null,"values":[50,60,70,80,90,100,200,300,400,500,600,700,800,900,1000,2000,3000,4000,5000],"labelExpr":"datum.value == 100 ? '10²' : datum.value == 1000 ? '10³' : ''","labelFontSize":{"condition":{"test":"datum.value == 100 || datum.value == 1000","value":17},"value":0},"labelPadding":3,"tickSize":{"condition":{"test":"datum.value == 100 || datum.value == 1000","value":5},"value":3}}},"text":{"field":"label"}}}
]},
{"width":625,"height":162,
"encoding":{"x":{"field":"d","type":"temporal","scale":{"type":"utc","domain":[{"year":2020,"month":2,"date":14,"hours":12,"utc":true},{"year":2021,"month":5,"date":19,"hours":10,"utc":true}]},"axis":{"title":null,"values":[{"year":2020,"month":3,"date":1,"utc":true},{"year":2020,"month":4,"date":1,"utc":true},{"year":2020,"month":5,"date":1,"utc":true},{"year":2020,"month":6,"date":1,"utc":true},{"year":2020,"month":7,"date":1,"utc":true},{"year":2020,"month":8,"date":1,"utc":true},{"year":2020,"month":9,"date":1,"utc":true},{"year":2020,"month":10,"date":1,"utc":true},{"year":2020,"month":11,"date":1,"utc":true},{"year":2020,"month":12,"date":1,"utc":true},{"year":2021,"month":1,"date":1,"utc":true},{"year":2021,"month":2,"date":1,"utc":true},{"year":2021,"month":3,"date":1,"utc":true},{"year":2021,"month":4,"date":1,"utc":true},{"year":2021,"month":5,"date":1,"utc":true}],"labelExpr":"utcmonth(datum.value) % 2 == 0 ? utcFormat(datum.value, '%m/%d/%y') : ''","labelFontSize":{"condition":{"test":"utcmonth(datum.value) % 2 == 0","value":15},"value":0},"labelAngle":-45,"labelAlign":"center","labelBaseline":"middle","labelPadding":36,"labelBound":false,"labelFlush":false,"tickSize":{"condition":{"test":"utcmonth(datum.value) % 2 == 0","value":5},"value":3}}}},
"layer":[
{"data":{"name":"pcr"},"mark":{"type":"line"},"encoding":{"y":{"field":"t","type":"quantitative","scale":{"domain":[-7150,150200],"nice":false,"zero":false},"axis":{"title":"PCR Tests","titleX":-79,"values":[0,50000,100000,150000],"format":"d","tickSize":5,"labelPadding":3}},"color":{"datum":"Raw data","type":"nominal","scale":{"domain":["Raw data","7-day ave"],"range":["#87ceeb","#1f77b4"]},"legend":{"title":null,"orient":"top-left","offset":9,"padding":6,"fillColor":"white","strokeColor":"#cccccc","cornerRadius":4,"labelFontSize":17,"labelColor":"black","symbolType":"M-1,0H2.4","symbolSize":484,"rowPadding":3,"labelOffset":27}},"strokeWidth":{"datum":"Raw data","type":"ordinal","scale":{"type":"point","domain":["Raw data","7-day ave"],"range":[1.2,3.5],"padding":0},"legend":{"title":null,"orient":"top-left","offset":9,"padding":6,"fillColor":"white","strokeColor":"#cccccc","cornerRadius":4,"labelFontSize":17,"labelColor":"black","symbolType":"M-1,0H2.4","symbolSize":484,"rowPadding":3,"labelOffset":27}}}},
{"data":{"name":"avg"},"mark":{"type":"line"},"encoding":{"y":{"field":"a","type":"quantitative","scale":{"domain":[-7150,150200],"nice":false,"zero":false},"axis":{"title":"PCR Tests","titleX":-79,"values":[0,50000,100000,150000],"format":"d","tickSize":5,"labelPadding":3}},"color":{"datum":"7-day ave","type":"nominal"},"strokeWidth":{"datum":"7-day ave","type":"ordinal"}}}
]}
]
}
